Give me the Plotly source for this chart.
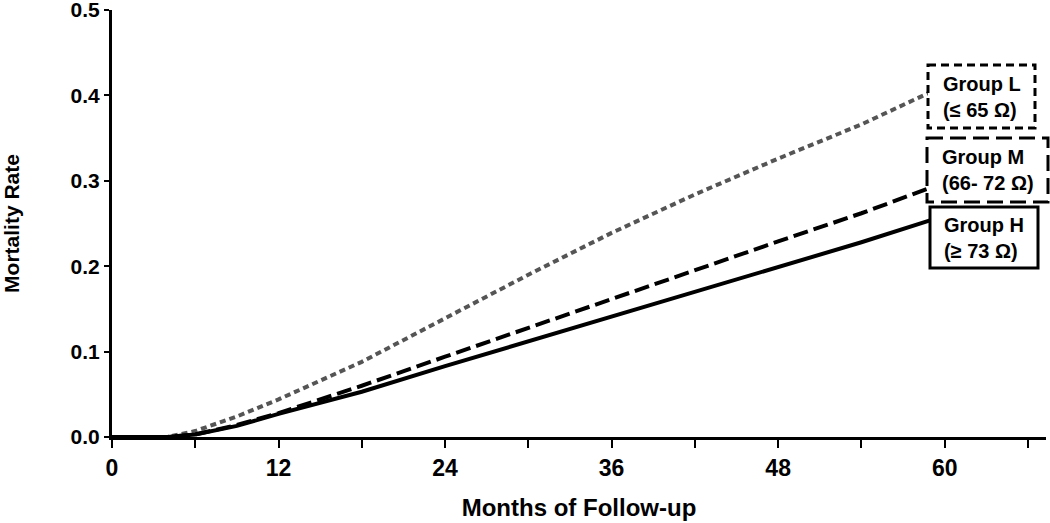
import plotly.graph_objects as go

# Cumulative mortality
months = [0, 4, 6, 9, 12, 18, 24, 30, 36, 42, 48, 54, 59]
group_l = [0, 0, 0.007, 0.024, 0.044, 0.088, 0.139, 0.190, 0.239, 0.284, 0.326, 0.366, 0.404]
group_m = [0, 0, 0.003, 0.014, 0.028, 0.060, 0.094, 0.128, 0.161, 0.196, 0.229, 0.262, 0.292]
group_h = [0, 0, 0.003, 0.013, 0.027, 0.053, 0.083, 0.112, 0.140, 0.170, 0.199, 0.228, 0.254]

x_ticks = list(range(0, 67, 6))
x_labels = [str(v) if v % 12 == 0 else "" for v in x_ticks]
y_ticks = [0.0, 0.1, 0.2, 0.3, 0.4, 0.5]

labels = ["Group L<br>(≤ 65 Ω)", "Group M<br>(66- 72 Ω)", "Group H<br>(≥ 73 Ω)"]

W, H = 1050, 523
L, R, T, B = 112, 4, 10, 86


def px(x):
    return (x - L) / (W - L - R)


def py(y):
    return (H - B - y) / (H - T - B)


fig = go.Figure()
fig.add_trace(go.Scatter(x=months, y=group_l, mode="lines",
                         line=dict(color="#555555", width=4, dash="6px,4px")))
fig.add_trace(go.Scatter(x=months, y=group_m, mode="lines",
                         line=dict(color="black", width=4, dash="15px,6px")))
fig.add_trace(go.Scatter(x=months, y=group_h, mode="lines",
                         line=dict(color="black", width=4)))

# legend boxes drawn next to the curve ends (pixels)
boxes = [
    (928, 65, 1035, 128, "8px,5px"),
    (927, 138, 1048, 202, "16px,7px"),
    (930, 207, 1038, 268, "solid"),
]
for (x0, y0, x1, y1, dash), text in zip(boxes, labels):
    fig.add_shape(type="rect", xref="paper", yref="paper",
                  x0=px(x0), x1=px(x1), y0=py(y0), y1=py(y1),
                  line=dict(color="black", width=3, dash=dash),
                  fillcolor="white", layer="above")
    fig.add_annotation(xref="paper", yref="paper",
                       x=px((x0 + x1) / 2), y=py((y0 + y1) / 2),
                       xanchor="center", yanchor="middle",
                       text=text, showarrow=False, align="left",
                       font=dict(family="Arial, Liberation Sans", size=20,
                                 color="black", weight="bold"))

fig.update_layout(
    width=W, height=H,
    margin=dict(l=L, r=R, t=T, b=B),
    plot_bgcolor="white", paper_bgcolor="white",
    showlegend=False,
    font=dict(family="Arial, Liberation Sans", color="black"),
)
fig.update_xaxes(
    range=[0, 67.3], tickvals=x_ticks, ticktext=x_labels,
    showline=True, linecolor="black", linewidth=3,
    ticks="outside", ticklen=8, tickwidth=2, tickcolor="black",
    showgrid=False, zeroline=False, automargin=False,
    tickfont=dict(size=23, weight="bold"),
    title=dict(text="Months of Follow-up", standoff=20,
               font=dict(size=24, weight="bold")),
)
fig.update_yaxes(
    range=[0, 0.5], tickvals=y_ticks, tickformat=".1f",
    showline=True, linecolor="black", linewidth=3,
    ticks="outside", ticklen=5, tickwidth=2, tickcolor="black",
    ticklabeloverflow="allow", automargin=False,
    showgrid=False, zeroline=False,
    tickfont=dict(size=21, weight="bold"),
    title=dict(text="Mortality Rate", standoff=46,
               font=dict(size=21, weight="bold")),
)

# drop the default page margin so the figure fills the window
fig.write_html("out.html", config={"displayModeBar": False},
               post_script="document.body.style.margin='0';")
